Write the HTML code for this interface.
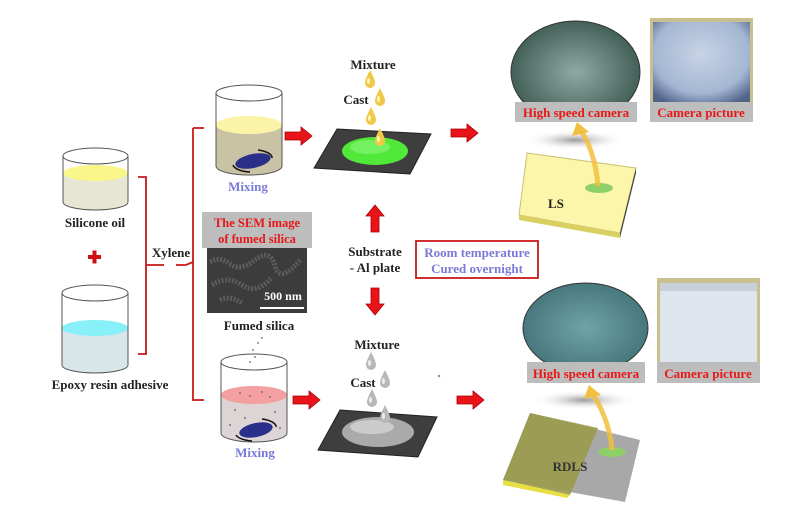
<!DOCTYPE html>
<html><head><meta charset="utf-8"><style>
html,body{margin:0;padding:0;background:#fff}
svg{display:block}
text{font-family:"Liberation Serif",serif;font-weight:bold}
</style></head><body>
<svg width="791" height="507" viewBox="0 0 791 507" xmlns="http://www.w3.org/2000/svg">
<defs>
<g id="ar"><polygon points="0,-4 16,-4 16,-9 27,0 16,9 16,4 0,4" fill="#e8141a" stroke="#a00" stroke-width="0.8"/></g>
<g id="dy"><path d="M0,-10 C3,-4 5,0 5,3 A5,5 0 0 1 -5,3 C-5,0 -3,-4 0,-10Z" fill="#f0c94a"/><ellipse cx="-1.5" cy="1" rx="1.5" ry="3" fill="#fff6b0"/></g>
<g id="dg"><path d="M0,-10 C3,-4 5,0 5,3 A5,5 0 0 1 -5,3 C-5,0 -3,-4 0,-10Z" fill="#b8b8b8"/><ellipse cx="-1.5" cy="1" rx="1.5" ry="3" fill="#eee"/></g>
<radialGradient id="sh"><stop offset="0" stop-color="#999"/><stop offset="1" stop-color="#fff" stop-opacity="0"/></radialGradient>
<radialGradient id="c1" cx="0.5" cy="0.5" r="0.6"><stop offset="0" stop-color="#8fa9a3"/><stop offset="1" stop-color="#34524a"/></radialGradient>
<radialGradient id="c2" cx="0.5" cy="0.5" r="0.6"><stop offset="0" stop-color="#6fa3a8"/><stop offset="1" stop-color="#3f6f75"/></radialGradient>
<radialGradient id="p1" cx="0.5" cy="0.4" r="0.7"><stop offset="0" stop-color="#c8d4e6"/><stop offset="0.7" stop-color="#a4b6d2"/><stop offset="1" stop-color="#51648a"/></radialGradient>
</defs>

<!-- Silicone oil beaker -->
<path d="M63,173 L63,202 A32.5,8 0 0 0 128,202 L128,173" fill="#e6e6d2"/>
<ellipse cx="95.5" cy="173" rx="32.5" ry="8" fill="#fbf68a"/>
<path d="M63,156 L63,202 A32.5,8 0 0 0 128,202 L128,156" fill="none" stroke="#555" stroke-width="1"/>
<ellipse cx="95.5" cy="156" rx="32.5" ry="8" fill="none" stroke="#555" stroke-width="1"/>
<text x="95" y="227" font-size="13" text-anchor="middle" fill="#222">Silicone oil</text>
<rect x="88" y="255" width="13" height="4" fill="#d01010"/>
<rect x="92.5" y="250.5" width="4" height="13" fill="#d01010"/>

<!-- Epoxy beaker -->
<path d="M62,328 L62,365 A33,8 0 0 0 128,365 L128,328" fill="#d8e6ea"/>
<ellipse cx="95" cy="328" rx="33" ry="8" fill="#88f0f8"/>
<path d="M62,293 L62,365 A33,8 0 0 0 128,365 L128,293" fill="none" stroke="#555"/>
<ellipse cx="95" cy="293" rx="33" ry="8" fill="none" stroke="#555"/>
<text x="110" y="389" font-size="13" text-anchor="middle" fill="#222">Epoxy resin adhesive</text>

<!-- brackets -->
<path d="M138,177 L146,177 L146,354 L138,354 M146,265 L164,265 M176,265 L186,265 L193,262 M193,128 L204,128 M193,128 L193,400 L204,400" fill="none" stroke="#c81818" stroke-width="1.8"/>
<text x="171" y="257" font-size="13" text-anchor="middle" fill="#222">Xylene</text>

<!-- top mixing beaker -->
<path d="M216,125 L216,166 A33,9 0 0 0 282,166 L282,125" fill="#c9c2a4"/>
<ellipse cx="249" cy="125" rx="33" ry="9" fill="#fbf4a8"/>
<path d="M216,93 L216,166 A33,9 0 0 0 282,166 L282,93" fill="none" stroke="#555"/>
<ellipse cx="249" cy="93" rx="33" ry="8" fill="none" stroke="#555"/>
<ellipse cx="253" cy="161" rx="18" ry="7" fill="#2a2f8a" transform="rotate(-12 253 161)"/>
<path d="M233,165 A20,8 0 0 0 250,172 M272,158 A20,8 0 0 0 258,150" fill="none" stroke="#111" stroke-width="1.5"/>
<text x="248" y="191" font-size="13" text-anchor="middle" fill="#7a7ad8">Mixing</text>

<!-- SEM -->
<rect x="202" y="212" width="110" height="36" fill="#bdbdbd"/>
<text x="257" y="227" font-size="12.5" text-anchor="middle" fill="#e81818">The SEM image</text>
<text x="257" y="243" font-size="12.5" text-anchor="middle" fill="#e81818">of fumed silica</text>
<rect x="207" y="248" width="100" height="65" fill="#3c3c3c"/>
<path d="M210,262 q10,-6 20,2 t25,-4 t20,6 t25,-6 M212,285 q15,-10 30,0 t30,-8 M220,300 q10,-5 22,3" fill="none" stroke="#6a6a6a" stroke-width="5" stroke-dasharray="2 1.5" opacity="0.7"/>
<text x="283" y="300" font-size="12" text-anchor="middle" fill="#fff">500 nm</text>
<rect x="260" y="307" width="44" height="2" fill="#fff"/>
<text x="259" y="330" font-size="13" text-anchor="middle" fill="#222">Fumed silica</text>

<!-- bottom mixing beaker -->
<g fill="#888"><circle cx="262" cy="338" r="1"/><circle cx="258" cy="343" r="1"/><circle cx="253" cy="350" r="1"/><circle cx="255" cy="357" r="1"/><circle cx="250" cy="362" r="1"/></g>
<path d="M221,395 L221,433 A33,9 0 0 0 287,433 L287,395" fill="#ddd5d5"/>
<ellipse cx="254" cy="395" rx="33" ry="9" fill="#f5a0a0"/>
<g fill="#777"><circle cx="240" cy="393" r="1"/><circle cx="250" cy="396" r="1"/><circle cx="262" cy="392" r="1"/><circle cx="270" cy="397" r="1"/><circle cx="235" cy="410" r="1"/><circle cx="245" cy="418" r="1"/><circle cx="275" cy="412" r="1"/><circle cx="230" cy="425" r="1"/><circle cx="280" cy="428" r="1"/></g>
<path d="M221,362 L221,433 A33,9 0 0 0 287,433 L287,362" fill="none" stroke="#555"/>
<ellipse cx="254" cy="362" rx="33" ry="8" fill="none" stroke="#555"/>
<ellipse cx="256" cy="430" rx="17" ry="7" fill="#2a2f8a" transform="rotate(-12 256 430)"/>
<path d="M236,435 A20,8 0 0 0 252,441 M276,427 A20,8 0 0 0 262,419" fill="none" stroke="#111" stroke-width="1.5"/>
<text x="255" y="457" font-size="13" text-anchor="middle" fill="#7a7ad8">Mixing</text>

<!-- red arrows -->
<use href="#ar" x="285" y="136"/>
<use href="#ar" x="293" y="400"/>
<use href="#ar" x="451" y="133"/>
<use href="#ar" x="457" y="400"/>
<use href="#ar" transform="translate(375,232) rotate(-90)"/>
<use href="#ar" transform="translate(375,288) rotate(90)"/>

<!-- top plate -->
<polygon points="337,129 431,134 410,174 314,168" fill="#3e3e3e" stroke="#222"/>
<ellipse cx="375" cy="151" rx="33" ry="14" fill="#52e83a"/>
<ellipse cx="370" cy="147" rx="20" ry="7" fill="#8cf77a" opacity="0.6"/>
<text x="373" y="69" font-size="13" text-anchor="middle" fill="#222">Mixture</text>
<text x="356" y="104" font-size="13" text-anchor="middle" fill="#222">Cast</text>
<use href="#dy" x="370" y="80"/><use href="#dy" x="380" y="98"/><use href="#dy" x="371" y="117"/><use href="#dy" x="380" y="138"/>

<text x="375" y="256" font-size="13" text-anchor="middle" fill="#222">Substrate</text>
<text x="375" y="272" font-size="13" text-anchor="middle" fill="#222">- Al plate</text>

<rect x="416" y="241" width="122" height="37" fill="none" stroke="#c81818" stroke-width="1.8"/>
<text x="477" y="257" font-size="13" text-anchor="middle" fill="#7a7ad8">Room temperature</text>
<text x="477" y="273" font-size="13" text-anchor="middle" fill="#7a7ad8">Cured overnight</text>

<!-- bottom plate -->
<polygon points="340,410 437,417 418,457 318,450" fill="#3e3e3e" stroke="#222"/>
<ellipse cx="378" cy="432" rx="36" ry="15" fill="#aaa"/>
<ellipse cx="372" cy="427" rx="22" ry="7" fill="#ccc"/>
<text x="377" y="349" font-size="13" text-anchor="middle" fill="#222">Mixture</text>
<text x="363" y="387" font-size="13" text-anchor="middle" fill="#222">Cast</text>
<use href="#dg" x="371" y="362"/><use href="#dg" x="385" y="380"/><use href="#dg" x="372" y="399"/><use href="#dg" x="385" y="415"/>
<circle cx="439" cy="376" r="1.3" fill="#999"/>

<!-- top right -->
<ellipse cx="575.5" cy="72" rx="64.5" ry="51" fill="url(#c1)" stroke="#333"/>
<rect x="508" y="102" width="140" height="25" fill="#fff"/>
<rect x="515" y="102" width="122" height="20" fill="#bdbdbd"/>
<text x="576" y="117" font-size="13" text-anchor="middle" fill="#e81818">High speed camera</text>
<rect x="650" y="18" width="103" height="84" fill="#c8c090"/>
<rect x="653" y="22" width="97" height="80" fill="url(#p1)"/>
<rect x="650" y="102" width="103" height="20" fill="#bdbdbd"/>
<text x="701" y="117" font-size="13" text-anchor="middle" fill="#e81818">Camera picture</text>
<ellipse cx="575" cy="140" rx="52" ry="10" fill="url(#sh)"/>
<polygon points="527,153 636,168 620,233 519,215" fill="#fbf6aa" stroke="#c8c070"/>
<polygon points="519,215 620,233 620,238 519,220" fill="#d8d060"/>
<polygon points="620,233 636,168 636,173 620,238" fill="#444"/>
<text x="548" y="208" font-size="13" fill="#222">LS</text>
<ellipse cx="599" cy="188" rx="14" ry="5" fill="#8fcf6a"/>
<path d="M598,186 C596,160 588,140 580,130" fill="none" stroke="#f2c040" stroke-width="5" opacity="0.85"/>
<polygon points="572,136 577,122 589,132" fill="#f2c040"/>

<!-- bottom right -->
<ellipse cx="585.5" cy="328" rx="62.5" ry="45" fill="url(#c2)" stroke="#333"/>
<rect x="520" y="362" width="135" height="25" fill="#fff"/>
<rect x="527" y="362" width="118" height="21" fill="#bdbdbd"/>
<text x="586" y="378" font-size="13" text-anchor="middle" fill="#e81818">High speed camera</text>
<rect x="657" y="278" width="103" height="84" fill="#c8c090"/>
<rect x="660" y="283" width="97" height="79" fill="#dfe5ec"/>
<rect x="660" y="283" width="97" height="8" fill="#b8c2cf" opacity="0.6"/>
<rect x="657" y="362" width="103" height="21" fill="#bdbdbd"/>
<text x="708" y="378" font-size="13" text-anchor="middle" fill="#e81818">Camera picture</text>
<ellipse cx="584" cy="400" rx="52" ry="10" fill="url(#sh)"/>
<polygon points="530,413 640,440 625,502 503,480" fill="#a8a8a8"/>
<polygon points="530,413 598,428 570,495 503,480" fill="#9a9a4a" opacity="0.9"/>
<polygon points="503,480 570,495 567,498 503,485" fill="#e8e040"/>
<ellipse cx="612" cy="452" rx="14" ry="5" fill="#8fcf6a"/>
<text x="570" y="471" font-size="13" text-anchor="middle" fill="#333">RDLS</text>
<path d="M612,450 C610,425 600,405 592,393" fill="none" stroke="#f2c040" stroke-width="5" opacity="0.85"/>
<polygon points="584,399 589,385 601,395" fill="#f2c040"/>
</svg>
</body></html>
